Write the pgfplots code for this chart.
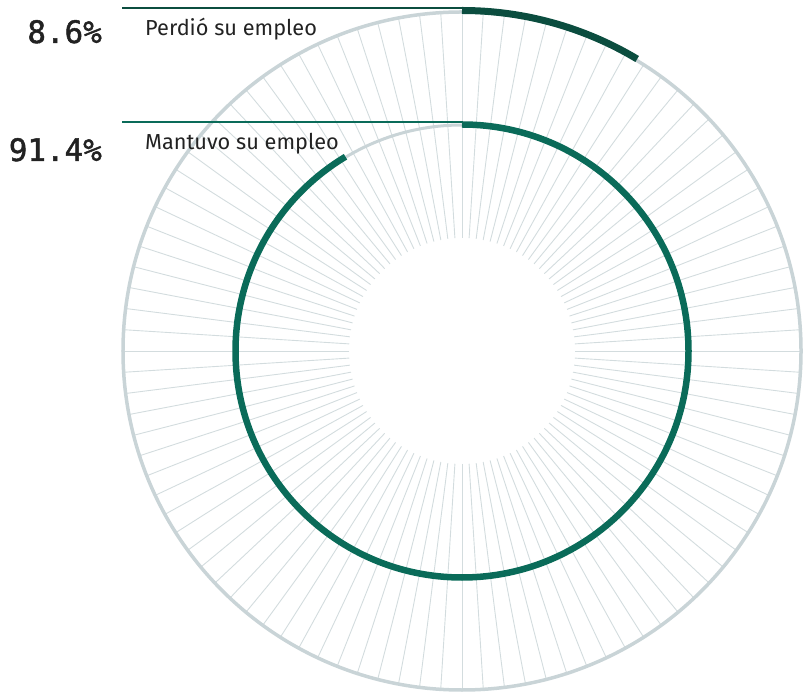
\documentclass[border=0pt]{standalone}
\usepackage{pgfplots}
\usepackage{pgfplotstable}
\usepackage{fontspec}
\pgfplotsset{compat=1.18}
\setmainfont{Fira Sans}
\newfontfamily\numfont[BoldFont={DejaVu Sans Mono}, BoldFeatures={FakeBold=1.6}]{DejaVu Sans Mono}

\definecolor{lost}{HTML}{0B4D3F}
\definecolor{kept}{HTML}{0A6B59}
\definecolor{ring}{HTML}{C9D4D7}
\definecolor{spoke}{HTML}{D3DCDE}
\definecolor{txt}{HTML}{222222}

% share of workers, percent
\pgfplotstableread{
group value
perdio 8.6
mantuvo 91.4
}\jobtable

\begin{document}
\begin{tikzpicture}
\pgfplotstablegetelem{0}{value}\of\jobtable \let\vLost\pgfplotsretval
\pgfplotstablegetelem{1}{value}\of\jobtable \let\vKept\pgfplotsretval
\begin{axis}[
    x=1bp, y=1bp,
    xmin=0, xmax=805, ymin=0, ymax=694,
    hide axis, clip=false,
]
% invisible frame keeps the page size
\path (axis cs:0,0) rectangle (axis cs:805,694);

% spokes, one per percent
\pgfplotsinvokeforeach{0,...,99}{
  \draw[spoke, line width=0.9bp] (axis cs:462,343) ++(#1*3.6:113bp) -- ++(#1*3.6:226bp);
}

% background rings
\draw[ring, line width=3.5bp] (axis cs:462,343) circle[radius=339bp];
\draw[ring, line width=3bp] (axis cs:462,343) circle[radius=226bp];

% leader lines
\addplot[lost, line width=2.2bp, mark=none] coordinates {(122,686) (462,686)};
\addplot[kept, line width=2.2bp, mark=none] coordinates {(122,572) (462,572)};

% value arcs, clockwise from the top
\draw[lost, line width=7bp] (axis cs:462,683.5) arc[start angle=90, end angle={90-3.6*\vLost}, radius=340.5bp];
\draw[kept, line width=6.5bp] (axis cs:462,569.5) arc[start angle=90, end angle={90-3.6*\vKept}, radius=226.5bp];

% labels
\node[anchor=base east, inner sep=0pt, text=txt, font=\numfont\bfseries\fontsize{31}{31}\selectfont] at (axis cs:102,651) {8.6\%};
\node[anchor=base west, inner sep=0pt, text=txt, font=\fontsize{21.8}{22}\selectfont] at (axis cs:145,658) {Perdió su empleo};
\node[anchor=base east, inner sep=0pt, text=txt, font=\numfont\bfseries\fontsize{31}{31}\selectfont] at (axis cs:102,533) {91.4\%};
\node[anchor=base west, inner sep=0pt, text=txt, font=\fontsize{21.8}{22}\selectfont] at (axis cs:145,544) {Mantuvo su empleo};
\end{axis}
\end{tikzpicture}
\end{document}
